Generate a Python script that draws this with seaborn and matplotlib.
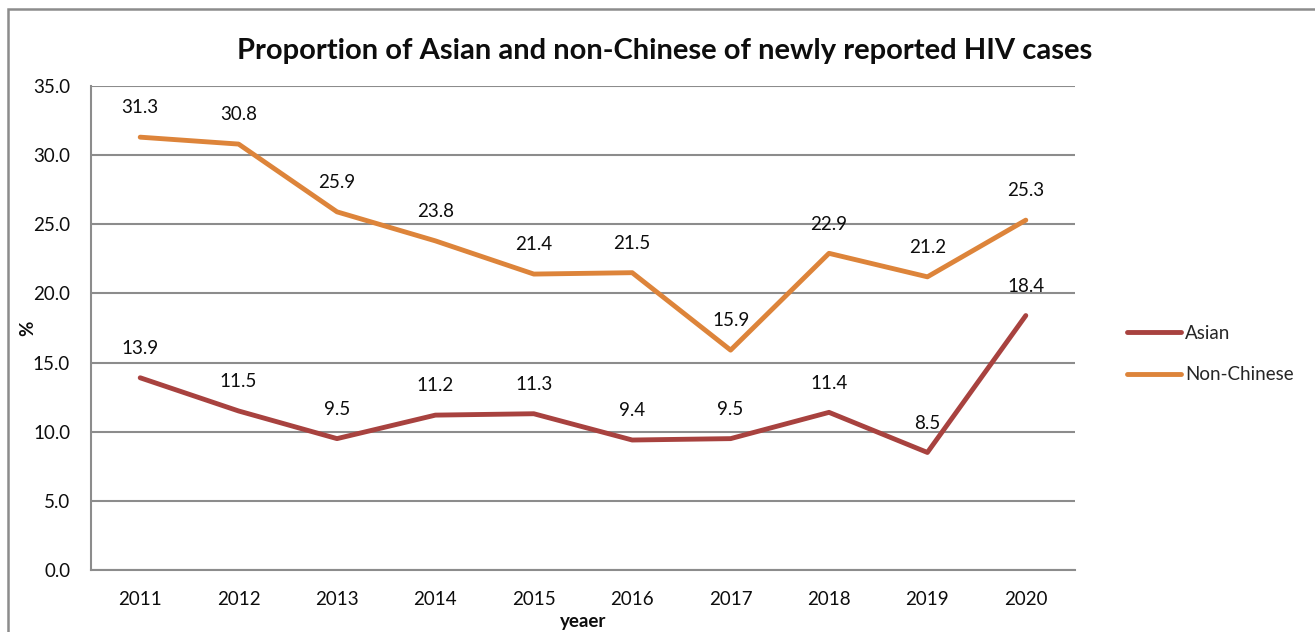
import matplotlib
matplotlib.use("Agg")
import matplotlib.pyplot as plt
from matplotlib.patches import Rectangle
import seaborn as sns
import pandas as pd

years = ["2011", "2012", "2013", "2014", "2015", "2016", "2017", "2018", "2019", "2020"]
asian = [13.9, 11.5, 9.5, 11.2, 11.3, 9.4, 9.5, 11.4, 8.5, 18.4]
non_chinese = [31.3, 30.8, 25.9, 23.8, 21.4, 21.5, 15.9, 22.9, 21.2, 25.3]
series_names = ["Asian", "Non-Chinese"]
series_colors = ["#A8423F", "#DD843A"]
y_ticks = [0, 5, 10, 15, 20, 25, 30, 35]

sns.set_theme(style="white")
plt.rcParams["font.family"] = ["Lato", "DejaVu Sans"]

df = pd.DataFrame({
    "pos": list(range(len(years))) * 2,
    "value": asian + non_chinese,
    "series": [series_names[0]] * len(years) + [series_names[1]] * len(years),
})

fig = plt.figure(figsize=(13.15, 6.32), dpi=100)
ax = fig.add_axes([91 / 1315, 1 - 570 / 632, (1075 - 91) / 1315, (570 - 86) / 632])

sns.lineplot(data=df, x="pos", y="value", hue="series", hue_order=series_names,
             palette=series_colors, linewidth=3.5, ax=ax, legend=False,
             solid_capstyle="round", solid_joinstyle="round", zorder=3)

fs = 13.5
txt_c = "#0D0D0D"

# value labels above each point
for vals in (asian, non_chinese):
    for i, v in enumerate(vals):
        ax.annotate(f"{v:.1f}", (i, v), xytext=(0, 21), textcoords="offset points",
                    ha="center", va="center", fontsize=fs, color=txt_c)

grid_c = "#8C8C8C"
ax.set_xlim(-0.5, len(years) - 0.5)
ax.set_ylim(0, 35)
ax.set_yticks(y_ticks)
ax.set_yticklabels([f"{t:.1f}" for t in y_ticks], fontsize=fs, color=txt_c)
ax.set_xticks(range(len(years)))
ax.set_xticklabels(years, fontsize=fs, color=txt_c)
ax.set_xticks([i - 0.5 for i in range(len(years) + 1)], minor=True)
ax.tick_params(axis="x", which="major", length=0, pad=15)
ax.tick_params(axis="x", which="minor", length=6, width=1.5, color=grid_c, direction="out")
ax.tick_params(axis="y", which="major", length=6, width=1.5, color=grid_c, direction="out", pad=9)
ax.yaxis.grid(True, color=grid_c, linewidth=1.5)
ax.xaxis.grid(False)
ax.set_axisbelow(True)
for side in ("top", "right"):
    ax.spines[side].set_visible(False)
for side in ("left", "bottom"):
    ax.spines[side].set_color(grid_c)
    ax.spines[side].set_linewidth(1.5)
ax.set_xlabel("")
ax.set_ylabel("")

fig.text(665 / 1315, 1 - 51 / 632, "Proportion of Asian and non-Chinese of newly reported HIV cases",
         ha="center", va="center", fontsize=21, fontweight="bold", color=txt_c)
fig.text(28 / 1315, 1 - 328 / 632, "%", rotation=90, ha="center", va="center",
         fontsize=fs, fontweight="bold", color=txt_c)
fig.text(583 / 1315, 1 - 622 / 632, "yeaer", ha="center", va="center",
         fontsize=fs, fontweight="bold", color=txt_c)

# legend
handles = [plt.Line2D([0], [0], color=c, linewidth=3.5, solid_capstyle="round") for c in series_colors]
fig.legend(handles, series_names, loc="center left", bbox_to_anchor=(1110 / 1315, 1 - 354 / 632),
           frameon=False, fontsize=fs, handlelength=2.9, handletextpad=0.2, labelspacing=1.3)

# chart-area border
fig.patches.append(Rectangle((8 / 1315, -0.1), 1.2, 1 - 9 / 632 + 0.1, transform=fig.transFigure,
                             fill=False, edgecolor="#8C8C8C", linewidth=1.8, figure=fig))

fig.savefig("out.png", dpi=100, facecolor="white")
